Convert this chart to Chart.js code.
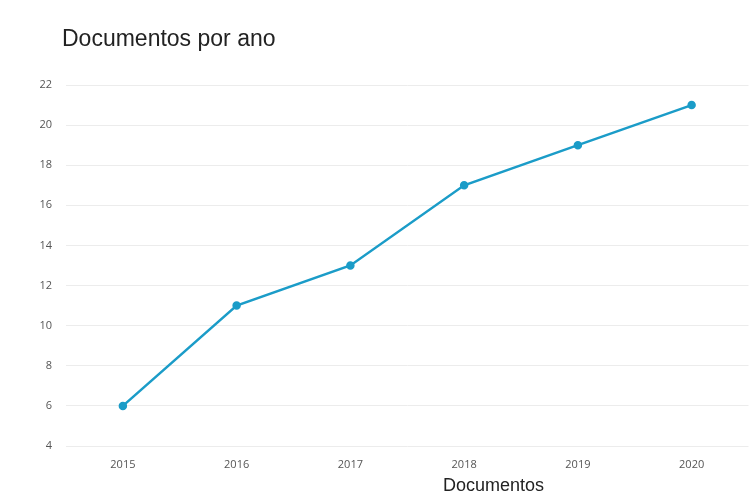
<!DOCTYPE html>
<html>
<head>
<meta charset="utf-8">
<script src="https://cdn.jsdelivr.net/npm/chart.js@4"></script>
<style>
  html, body { margin: 0; padding: 0; background: #fff; overflow: hidden; }
  #wrap { position: relative; width: 751px; height: 502px; overflow: hidden; }
  #chart { position: absolute; left: 0; top: 0; }
  .ttl { position: absolute; font-family: "Liberation Sans", Arial, sans-serif; color: #222; white-space: nowrap; }
  #mainTitle { left: 62px; top: 25px; font-size: 23px; }
  #axisTitle { left: 443px; top: 475px; font-size: 18px; }
</style>
</head>
<body>
<div id="wrap">
  <canvas id="chart" width="755" height="502"></canvas>
  <div class="ttl" id="mainTitle">Documentos por ano</div>
  <div class="ttl" id="axisTitle">Documentos</div>
</div>
<script>
/* =============================================
   DATA
   ============================================= */
const years = ['2015', '2016', '2017', '2018', '2019', '2020'];
const docCounts = [6, 11, 13, 17, 19, 21];
const yMin = 4;
const yMax = 22;
const yStep = 2;

/* =============================================
   CHART
   ============================================= */
const ctx = document.getElementById('chart').getContext('2d');
const lineColor = '#1b9cc8';
const tickFont = { family: 'Open Sans', size: 11 };

new Chart(ctx, {
  type: 'line',
  data: {
    labels: years,
    datasets: [{
      label: 'Documentos',
      data: docCounts,
      borderColor: lineColor,
      backgroundColor: lineColor,
      borderWidth: 2.5,
      pointRadius: 3,
      pointHoverRadius: 4,
      tension: 0
    }]
  },
  options: {
    responsive: false,
    animation: false,
    layout: { padding: { top: 85, right: 0, bottom: 0, left: 0 } },
    plugins: {
      legend: { display: false },
      title: { display: false },
      tooltip: { enabled: false }
    },
    scales: {
      x: {
        offset: true,
        grid: { display: false },
        border: { display: false },
        ticks: { color: '#555', font: tickFont, padding: 4 },
        afterFit: s => { s.height = 56; }
      },
      y: {
        min: yMin,
        max: yMax,
        ticks: { stepSize: yStep, color: '#555', font: tickFont, padding: 14 },
        grid: { color: '#ececec', drawTicks: false },
        border: { display: false },
        afterFit: s => { s.width = 66; }
      }
    }
  }
});
</script>
</body>
</html>
